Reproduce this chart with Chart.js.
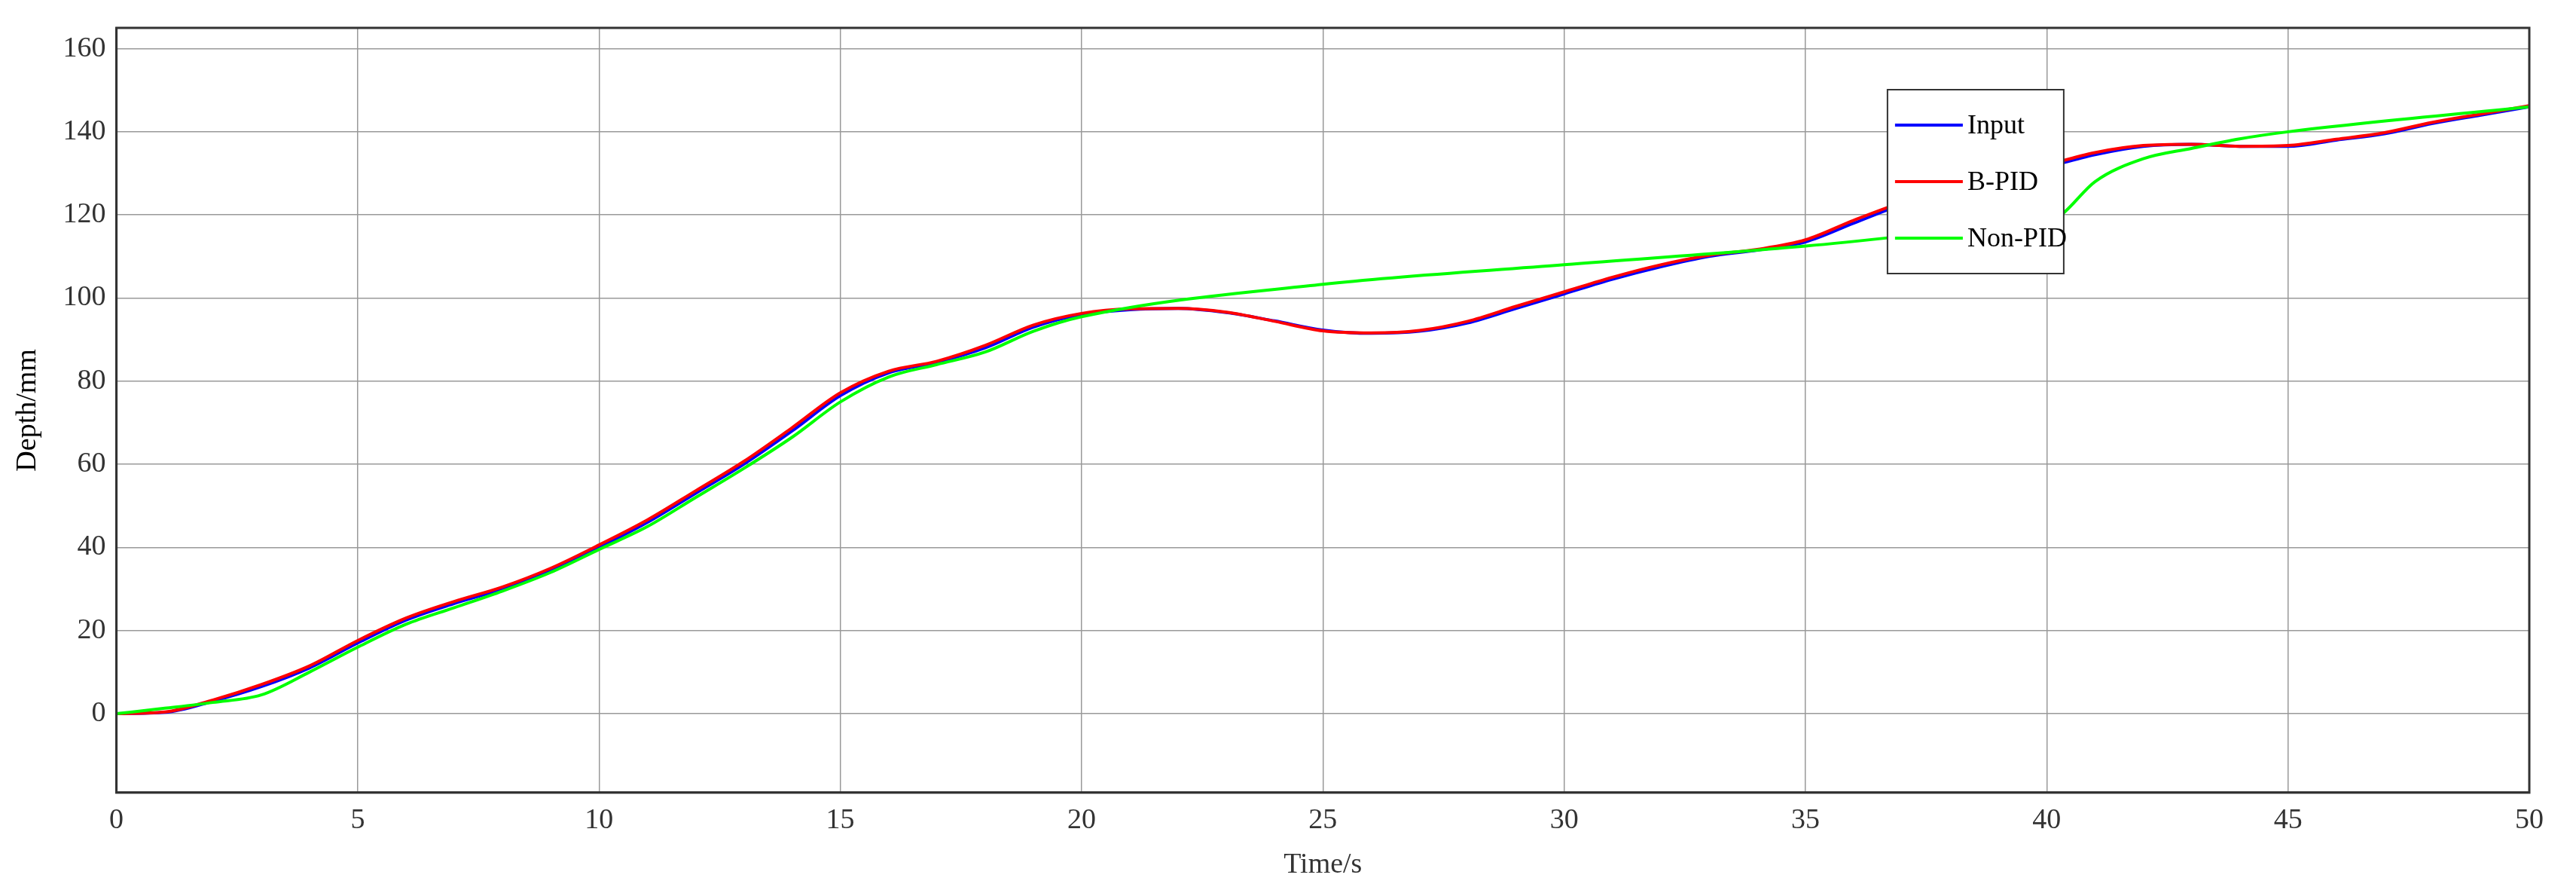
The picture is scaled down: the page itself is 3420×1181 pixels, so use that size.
<!DOCTYPE html>
<html>
<head>
<script src="https://cdn.jsdelivr.net/npm/chart.js"></script>
<style>
  body { margin: 0; background: #fff; }
  canvas { display: block; }
</style>
</head>
<body>
<canvas id="chart" width="3420" height="1181"></canvas>
<script>
  // values
  const timeInput = [0,1,2,3,4,5,6,7,8,9,10,11,12,13,14,15,16,17,18,19,20,21,22,23,24,25,26,27,28,29,30,31,32,33,34,35,36,37,38,39,40,41,42,43,44,45,46,47,48,49,50];
  const depthInput = [0,0.3,3,6.5,11,17,22.5,26.5,30,34.5,40,46,53,60,68,76.5,82,84.5,88,93,96,97.2,97.5,96.5,94.5,92.3,91.5,92,94,97.5,101,104.5,107.5,110,111.5,113.5,118,122.5,126,128.5,131.5,134.5,136.5,137,136.5,136.5,138,139.5,142,144,146];
  const depthBPID = [0,0.4,3.3,7,11.5,17.6,23,27,30.5,35,40.6,46.6,53.6,60.7,68.8,77.2,82.4,84.8,88.6,93.5,96.3,97.4,97.5,96.6,94.4,92.1,91.6,92.2,94.4,98,101.5,105,108,110.3,111.7,114,118.7,123,126.4,128.9,132,135,136.7,137,136.5,136.7,138.2,139.8,142.3,144.3,146.3];
  const timeNonPID = [0,1,2,3,4,5,6,7,8,9,10,11,12,13,14,15,16,17,18,19,20,25,30,35,39,40,40.3,41,42,43,44,45,50];
  const depthNonPID = [0,1.3,2.7,4.5,10,16,21.5,25.5,29.5,34,39.5,45,52,59,66.5,75,81,84,87,92,95.5,103.3,108,112.5,117.2,118.3,120,128,133.5,136,138.3,140,146];

  const pts = (xs, ys) => xs.map((x, i) => ({ x: x, y: ys[i] }));
  const serif = 'Liberation Serif';

  const ctx = document.getElementById('chart').getContext('2d');
  const chart = new Chart(ctx, {
    type: 'line',
    data: {
      datasets: [
        { label: 'Input', data: pts(timeInput, depthInput), borderColor: '#0000ff', borderWidth: 4, pointRadius: 0, cubicInterpolationMode: 'monotone', order: 3 },
        { label: 'B-PID', data: pts(timeInput, depthBPID), borderColor: '#ff0000', borderWidth: 4, pointRadius: 0, cubicInterpolationMode: 'monotone', order: 2 },
        { label: 'Non-PID', data: pts(timeNonPID, depthNonPID), borderColor: '#00ff00', borderWidth: 4, pointRadius: 0, cubicInterpolationMode: 'monotone', order: 1 }
      ]
    },
    options: {
      responsive: false,
      animation: false,
      layout: { padding: { left: 4, right: 62, top: 37, bottom: 10 } },
      plugins: { legend: { display: false }, tooltip: { enabled: false } },
      scales: {
        x: {
          type: 'linear', min: 0, max: 50,
          ticks: { stepSize: 5, font: { family: serif, size: 38 }, color: '#333', padding: 14 },
          grid: { color: '#999', lineWidth: 1.5, drawTicks: false },
          border: { color: '#333', width: 3 },
          title: { display: true, text: 'Time/s', font: { family: serif, size: 38 }, color: '#333', padding: 0 }
        },
        y: {
          min: -19, max: 165,
          afterBuildTicks: s => { s.ticks = [0,20,40,60,80,100,120,140,160].map(v => ({ value: v })); },
          ticks: { font: { family: serif, size: 38 }, color: '#333', padding: 14 },
          grid: { color: '#999', lineWidth: 1.5, drawTicks: false },
          border: { color: '#333', width: 3 },
          title: { display: true, text: 'Depth/mm', font: { family: serif, size: 38 }, color: '#000', padding: 10 }
        }
      }
    },
    plugins: [{
      id: 'frameAndLegend',
      afterDraw(c) {
        const a = c.chartArea, g = c.ctx;
        g.save();
        g.strokeStyle = '#333';
        g.lineWidth = 3;
        g.strokeRect(a.left, a.top, a.right - a.left, a.bottom - a.top);
        // legend box, MATLAB style, top right
        const lx = a.left + (a.right - a.left) * 0.734, ly = a.top + 82, lw = 234, lh = 244;
        g.fillStyle = '#fff';
        g.fillRect(lx, ly, lw, lh);
        g.lineWidth = 2;
        g.strokeRect(lx, ly, lw, lh);
        g.font = '36px ' + serif;
        g.textBaseline = 'middle';
        c.data.datasets.forEach((d, i) => {
          const y = ly + 47 + i * 75;
          g.strokeStyle = d.borderColor;
          g.lineWidth = 4;
          g.beginPath(); g.moveTo(lx + 10, y); g.lineTo(lx + 100, y); g.stroke();
          g.fillStyle = '#000';
          g.fillText(d.label, lx + 106, y + 2);
        });
        g.restore();
      }
    }]
  });
</script>
</body>
</html>
